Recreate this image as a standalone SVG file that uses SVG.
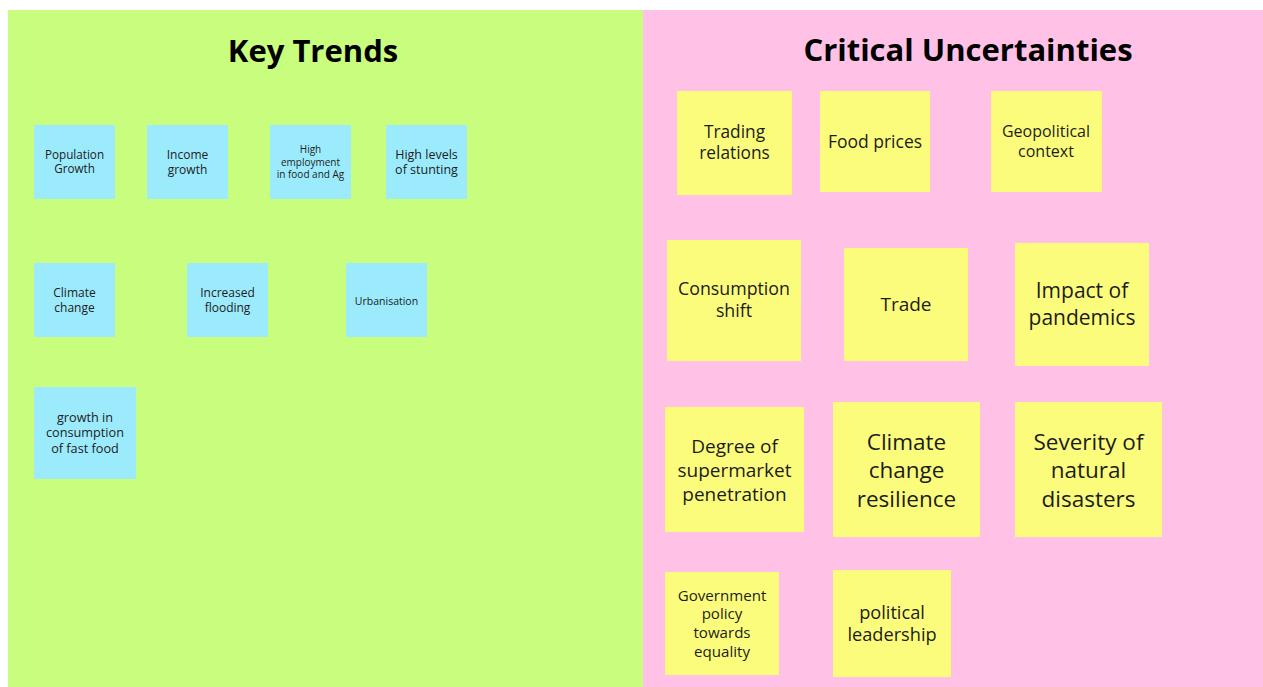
<svg xmlns="http://www.w3.org/2000/svg" width="1263" height="687" viewBox="0 0 1263 687">
<style>
text{font-family:"Open Sans","Liberation Sans",sans-serif;fill:#1c1c1c;text-anchor:middle}
.title{font-weight:700;font-size:31px;fill:#000}
.blue{fill:#9cebfd}
.yellow{fill:#fcfc7c}
</style>
<rect x="0" y="0" width="1263" height="687" fill="#ffffff"/>
<g id="panel-key-trends">
<rect x="8" y="10" width="635" height="677" fill="#c8fd7e"/>
<text class="title" x="313" y="62">Key Trends</text>
</g>
<g id="panel-critical-uncertainties">
<rect x="643" y="10" width="620" height="677" fill="#ffc1e6"/>
<text class="title" x="968" y="61">Critical Uncertainties</text>
</g>
<g id="connectors"></g>
<g id="kt-population"><rect class="blue" x="34" y="125" width="81" height="74"/><text x="74.5" y="158.8" font-size="11.7">Population</text><text x="74.5" y="173.2" font-size="11.7">Growth</text></g>
<g id="kt-income"><rect class="blue" x="147" y="125" width="81" height="74"/><text x="187.5" y="159" font-size="12">Income</text><text x="187.5" y="174" font-size="12">growth</text></g>
<g id="kt-employment"><rect class="blue" x="270" y="125" width="81" height="74"/><text x="310.5" y="153.2" font-size="10">High</text><text x="310.5" y="165.5" font-size="10">employment</text><text x="310.5" y="177.8" font-size="10">in food and Ag</text></g>
<g id="kt-stunting"><rect class="blue" x="386" y="125" width="81" height="74"/><text x="426.5" y="158.8" font-size="12.5">High levels</text><text x="426.5" y="174.2" font-size="12.5">of stunting</text></g>
<g id="kt-climate"><rect class="blue" x="34" y="263" width="81" height="74"/><text x="74.5" y="297" font-size="12">Climate</text><text x="74.5" y="312" font-size="12">change</text></g>
<g id="kt-flooding"><rect class="blue" x="187" y="263" width="81" height="74"/><text x="227.5" y="297" font-size="12">Increased</text><text x="227.5" y="312" font-size="12">flooding</text></g>
<g id="kt-urbanisation"><rect class="blue" x="346" y="263" width="81" height="74"/><text x="386.5" y="304.5" font-size="10.5">Urbanisation</text></g>
<g id="kt-fastfood"><rect class="blue" x="34" y="387" width="102" height="92"/><text x="85" y="421.6" font-size="12.7">growth in</text><text x="85" y="437.2" font-size="12.7">consumption</text><text x="85" y="452.8" font-size="12.7">of fast food</text></g>
<g id="cu-trading"><rect class="yellow" x="677" y="91" width="115" height="104"/><text x="734.5" y="137.85" font-size="17.3">Trading</text><text x="734.5" y="159.15" font-size="17.3">relations</text></g>
<g id="cu-foodprices"><rect class="yellow" x="820" y="91" width="110" height="101"/><text x="875" y="148" font-size="17.5">Food prices</text></g>
<g id="cu-geopolitical"><rect class="yellow" x="991" y="91" width="111" height="101"/><text x="1046" y="137.15" font-size="16">Geopolitical</text><text x="1046" y="156.85" font-size="16">context</text></g>
<g id="cu-consumption"><rect class="yellow" x="667" y="240" width="134" height="121"/><text x="734" y="294.8" font-size="17.8">Consumption</text><text x="734" y="316.7" font-size="17.8">shift</text></g>
<g id="cu-trade"><rect class="yellow" x="844" y="248" width="124" height="113"/><text x="906" y="310.5" font-size="19">Trade</text></g>
<g id="cu-pandemics"><rect class="yellow" x="1015" y="243" width="134" height="123"/><text x="1082" y="298.4" font-size="21">Impact of</text><text x="1082" y="324.6" font-size="21">pandemics</text></g>
<g id="cu-supermarket"><rect class="yellow" x="665" y="407" width="139" height="125"/><text x="734.5" y="452.5" font-size="19">Degree of</text><text x="734.5" y="476.5" font-size="19">supermarket</text><text x="734.5" y="500.5" font-size="19">penetration</text></g>
<g id="cu-resilience"><rect class="yellow" x="833" y="402" width="147" height="135"/><text x="906.5" y="449.5" font-size="22.5">Climate</text><text x="906.5" y="478" font-size="22.5">change</text><text x="906.5" y="506.5" font-size="22.5">resilience</text></g>
<g id="cu-disasters"><rect class="yellow" x="1015" y="402" width="147" height="135"/><text x="1088.5" y="449.5" font-size="22.5">Severity of</text><text x="1088.5" y="478" font-size="22.5">natural</text><text x="1088.5" y="506.5" font-size="22.5">disasters</text></g>
<g id="cu-government"><rect class="yellow" x="665" y="572" width="114" height="103"/><text x="722" y="600.85" font-size="15.1">Government</text><text x="722" y="619.45" font-size="15.1">policy</text><text x="722" y="638.05" font-size="15.1">towards</text><text x="722" y="656.65" font-size="15.1">equality</text></g>
<g id="cu-leadership"><rect class="yellow" x="833" y="570" width="118" height="107"/><text x="892" y="618.55" font-size="18.2">political</text><text x="892" y="640.95" font-size="18.2">leadership</text></g>
</svg>
